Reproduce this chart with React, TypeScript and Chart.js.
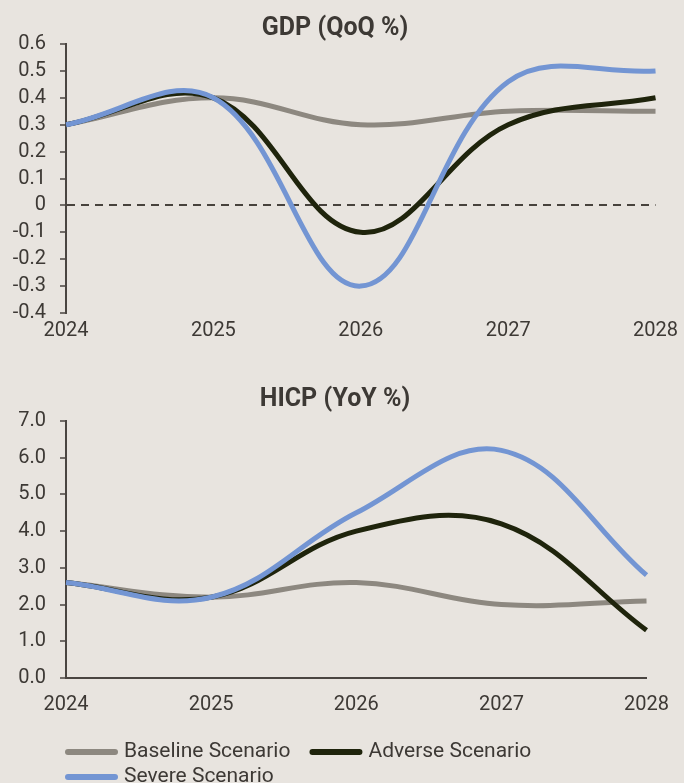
import React, { useEffect, useRef } from 'react';
import { Chart, registerables } from 'chart.js';

Chart.register(...registerables);

// ---- data ----
const years = ['2024', '2025', '2026', '2027', '2028'];
const seriesNames = ['Baseline Scenario', 'Adverse Scenario', 'Severe Scenario'];
const seriesColors = ['#8d8880', '#1f240c', '#7395d3'];

const gdpBaseline = [0.3, 0.4, 0.3, 0.35, 0.35];
const gdpAdverse = [0.3, 0.4, -0.1, 0.3, 0.4];
const gdpSevere = [0.3, 0.4, -0.3, 0.46, 0.5];

const hicpBaseline = [2.6, 2.2, 2.6, 2.0, 2.1];
const hicpAdverse = [2.6, 2.2, 4.0, 4.2, 1.3];
const hicpSevere = [2.6, 2.2, 4.5, 6.2, 2.8];

const gdpTitle = 'GDP (QoQ %)';
const hicpTitle = 'HICP (YoY %)';

const TEXT = '#3d3935';
const AXIS = '#4a4541';
const BG = '#e8e4df';
const FONT = 'Roboto';

const lineLegend = {
  id: 'lineLegend',
  afterDraw(chart: any, _args: any, opts: any) {
    if (!opts || !opts.display) return;
    const ctx = chart.ctx;
    ctx.save();
    ctx.font = `${opts.fontSize}px ${FONT}`;
    ctx.textBaseline = 'middle';
    ctx.textAlign = 'left';
    const startX = chart.chartArea.left - 1;
    let x = startX;
    let row = 0;
    chart.data.datasets.forEach((ds: any) => {
      const tw = ctx.measureText(ds.label).width;
      const w = opts.boxWidth + opts.textGap + tw;
      if (x > startX && x + w > chart.width) {
        row++;
        x = startX;
      }
      const y = opts.top + row * opts.rowHeight;
      ctx.strokeStyle = ds.borderColor;
      ctx.lineWidth = 6;
      ctx.lineCap = 'round';
      ctx.beginPath();
      ctx.moveTo(x + 3, y);
      ctx.lineTo(x + opts.boxWidth - 3, y);
      ctx.stroke();
      ctx.fillStyle = TEXT;
      ctx.fillText(ds.label, x + opts.boxWidth + opts.textGap, y);
      x += w + opts.itemGap;
    });
    ctx.restore();
  },
};

type Props = {
  title: string;
  values: number[][];
  yMin: number;
  yMax: number;
  step: number;
  fmt: (v: number) => string;
  zeroLine: boolean;
  xBorder: boolean;
  height: number;
  legend: boolean;
  titlePadTop: number;
  titlePadBottom: number;
  xPad: number;
  padBottom: number;
};

function LineChart(p: Props) {
  const ref = useRef<HTMLCanvasElement>(null);
  useEffect(() => {
    if (!ref.current) return;
    const chart = new Chart(ref.current, {
      type: 'line',
      data: {
        labels: years,
        datasets: p.values.map((vals, i) => ({
          label: seriesNames[i],
          data: vals,
          borderColor: seriesColors[i],
          backgroundColor: seriesColors[i],
          borderWidth: 5,
          pointRadius: 0,
          pointHoverRadius: 0,
          tension: 0.38,
          fill: false,
          order: 3 - i,
        })),
      },
      options: {
        responsive: false,
        animation: false,
        devicePixelRatio: 1,
        layout: { padding: { left: 12, right: 26, top: 0, bottom: p.padBottom } },
        plugins: {
          legend: { display: false },
          tooltip: { enabled: false },
          title: {
            display: true,
            text: p.title,
            color: TEXT,
            font: { family: FONT, size: 25, weight: 'bold' },
            padding: { top: p.titlePadTop, bottom: p.titlePadBottom },
          },
          lineLegend: {
            display: p.legend,
            fontSize: 21,
            boxWidth: 53,
            textGap: 6,
            itemGap: 19,
            top: 402,
            rowHeight: 25,
          },
        } as any,
        scales: {
          x: {
            type: 'category',
            offset: false,
            grid: { display: false, drawTicks: false, tickLength: 0 },
            border: { display: p.xBorder, color: AXIS, width: 2 },
            ticks: {
              color: TEXT,
              font: { family: FONT, size: 20 },
              padding: p.xPad,
              maxRotation: 0,
              autoSkip: false,
            },
          },
          y: {
            min: p.yMin,
            max: p.yMax,
            afterFit: (s: any) => {
              s.width = 54;
            },
            ticks: {
              stepSize: p.step,
              autoSkip: false,
              color: TEXT,
              font: { family: FONT, size: 20 },
              padding: 14,
              callback: (v: any) => p.fmt(Number(v)),
            },
            grid: {
              display: true,
              drawOnChartArea: p.zeroLine,
              drawTicks: true,
              tickLength: 6,
              tickWidth: 1.5,
              tickColor: AXIS,
              lineWidth: 2,
              color: (c: any) =>
                c.tick && Math.abs(c.tick.value) < 1e-9 && p.zeroLine ? '#47423d' : 'rgba(0,0,0,0)',
            },
            border: { display: true, color: AXIS, width: 2, dash: [8, 6] },
          },
        },
      },
      plugins: [lineLegend],
    } as any);
    return () => chart.destroy();
  }, []);
  return <canvas ref={ref} width={684} height={p.height} style={{ display: 'block' }} />;
}

export default function App() {
  return (
    <div
      style={{
        position: 'absolute',
        left: 0,
        top: 0,
        width: 684,
        height: 783,
        background: BG,
        overflow: 'hidden',
      }}
    >
      <LineChart
        title={gdpTitle}
        values={[gdpBaseline, gdpAdverse, gdpSevere]}
        yMin={-0.4}
        yMax={0.6}
        step={0.1}
        fmt={(v) => (Math.abs(v) < 1e-9 ? '0' : v.toFixed(1))}
        zeroLine={true}
        xBorder={false}
        height={350}
        legend={false}
        titlePadTop={14}
        titlePadBottom={0}
        xPad={6}
        padBottom={1}
      />
      <LineChart
        title={hicpTitle}
        values={[hicpBaseline, hicpAdverse, hicpSevere]}
        yMin={0}
        yMax={7}
        step={1}
        fmt={(v) => v.toFixed(1)}
        zeroLine={false}
        xBorder={true}
        height={433}
        legend={true}
        titlePadTop={35}
        titlePadBottom={6}
        xPad={15}
        padBottom={51}
      />
    </div>
  );
}
